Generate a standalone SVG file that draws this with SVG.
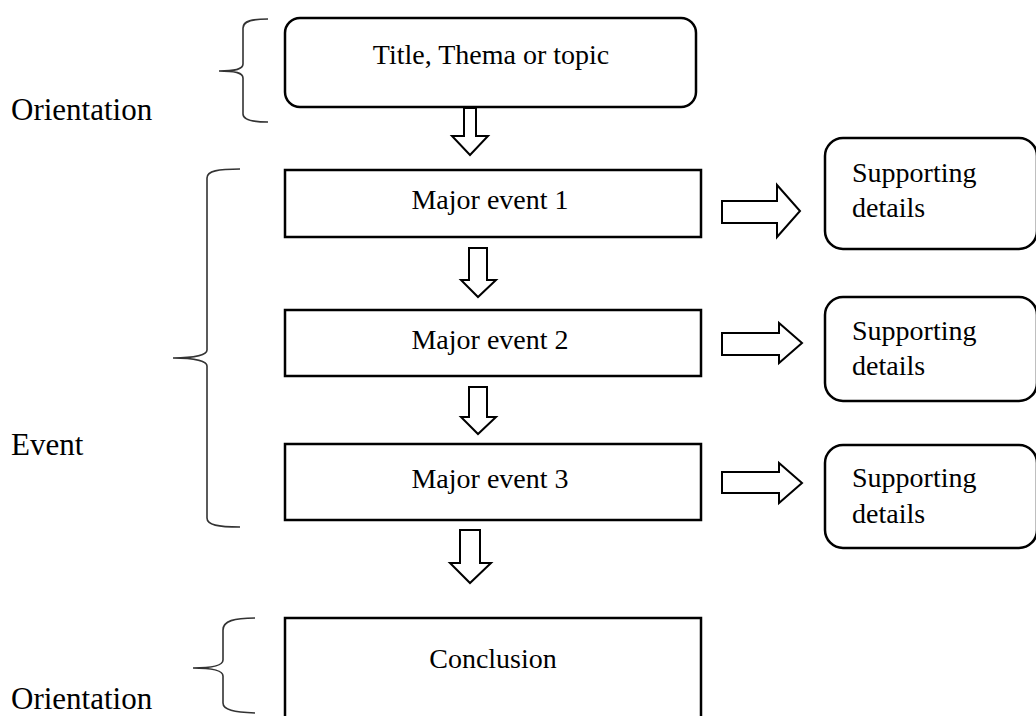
<svg xmlns="http://www.w3.org/2000/svg" width="1036" height="716" viewBox="0 0 1036 716">
<style>
.box{fill:#fff;stroke:#000;stroke-width:2.5}
.arr{fill:#fff;stroke:#000;stroke-width:2;stroke-linejoin:miter}
.brace{fill:none;stroke:#333;stroke-width:1.6}
.t{font-family:"Liberation Serif","Times New Roman",serif;font-size:28px;fill:#000}
.side{font-family:"Liberation Serif","Times New Roman",serif;font-size:31px;fill:#000}
</style>
<rect width="1036" height="716" fill="#fff"/>
<g id="labels">
<text class="side" x="11" y="120">Orientation</text>
<text class="side" x="11" y="455">Event</text>
<text class="side" x="11" y="709">Orientation</text>
</g>
<g id="braces">
<path class="brace" d="M268,19 C252,19 243,21 243,28 L243,64 C243,69 236,71 219,71 C236,71 243,73 243,78 L243,114 C243,120 252,122 268,122"/>
<path class="brace" d="M240,169 C218,169 207,171 207,178 L207,350 C207,355 195,358 173,358 C195,358 207,361 207,366 L207,518 C207,525 218,527 240,527"/>
<path class="brace" d="M255,618 C234,618 223,621 223,630 L223,660 C223,665 213,668 193,668 C213,668 223,671 223,676 L223,703 C223,710 234,712 255,713"/>
</g>
<g id="n-title">
<rect class="box" x="285" y="18" width="411" height="89" rx="15"/>
<text class="t" x="491" y="64" text-anchor="middle">Title, Thema or topic</text>
</g>
<g id="n-event1">
<rect class="box" x="285" y="170" width="416" height="67"/>
<text class="t" x="490" y="209" text-anchor="middle">Major event 1</text>
</g>
<g id="n-event2">
<rect class="box" x="285" y="310" width="416" height="66"/>
<text class="t" x="490" y="349" text-anchor="middle">Major event 2</text>
</g>
<g id="n-event3">
<rect class="box" x="285" y="444" width="416" height="76"/>
<text class="t" x="490" y="488" text-anchor="middle">Major event 3</text>
</g>
<g id="n-conclusion">
<rect class="box" x="285" y="618" width="416" height="130"/>
<text class="t" x="493" y="668" text-anchor="middle">Conclusion</text>
</g>
<g id="n-support1">
<rect class="box" x="825" y="138" width="212" height="111" rx="18"/>
<text class="t" x="852" y="182">Supporting</text>
<text class="t" x="852" y="217">details</text>
</g>
<g id="n-support2">
<rect class="box" x="825" y="297" width="212" height="104" rx="18"/>
<text class="t" x="852" y="340">Supporting</text>
<text class="t" x="852" y="375">details</text>
</g>
<g id="n-support3">
<rect class="box" x="825" y="445" width="212" height="103" rx="18"/>
<text class="t" x="852" y="487">Supporting</text>
<text class="t" x="852" y="523">details</text>
</g>
<g id="connectors">
<path class="arr" d="M464,108 L476,108 L476,136 L488,136 L470,155 L452,136 L464,136 Z"/>
<path class="arr" d="M469,248 L487,248 L487,280 L496,280 L478,297 L461,280 L469,280 Z"/>
<path class="arr" d="M469,387 L487,387 L487,417 L496,417 L478,434 L461,417 L469,417 Z"/>
<path class="arr" d="M460,530 L480,530 L480,563 L491,563 L470,583 L450,563 L460,563 Z"/>
<path class="arr" d="M722,201 L777,201 L777,185 L800,211 L777,237 L777,223 L722,223 Z"/>
<path class="arr" d="M722,333 L779,333 L779,323 L802,343 L779,363 L779,355 L722,355 Z"/>
<path class="arr" d="M722,472 L779,472 L779,463 L802,483 L779,503 L779,493 L722,493 Z"/>
</g>
</svg>
